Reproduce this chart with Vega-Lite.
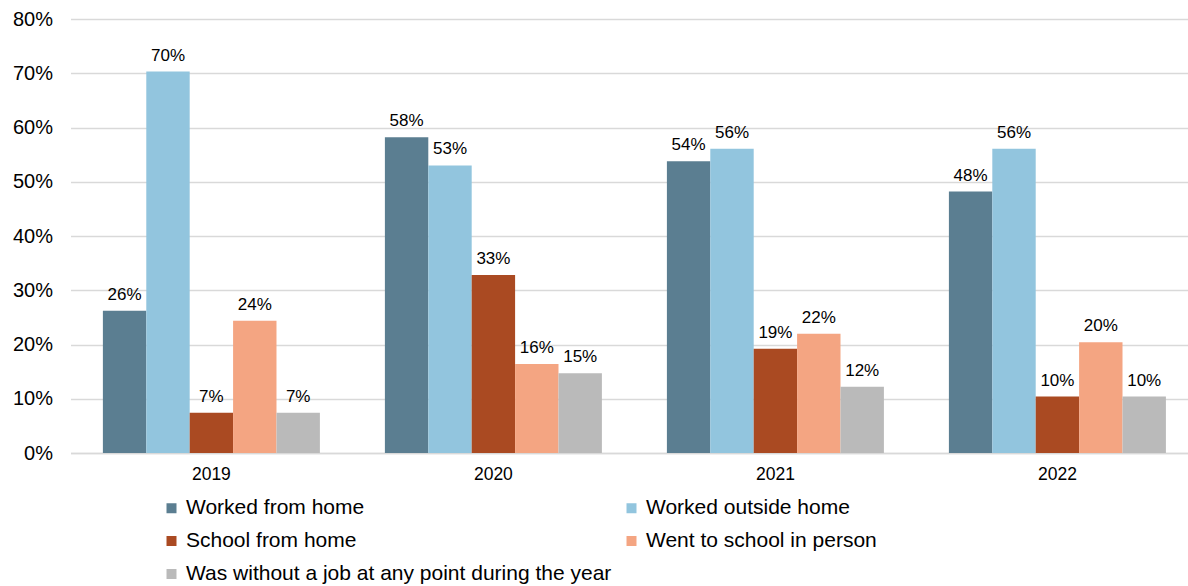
{
  "$schema": "https://vega.github.io/schema/vega-lite/v6.json",
  "width": 1117,
  "height": 434,
  "autosize": {"type": "none"},
  "padding": {"left": 70.5, "top": 19, "right": 0, "bottom": 133},
  "config": {
    "font": "Liberation Sans",
    "view": {"stroke": null},
    "axis": {"labelColor": "#000000", "labelFont": "Liberation Sans"}
  },
  "data": {
    "values": [
      {"year": "2019", "status": "Worked from home", "share": 0.262},
      {"year": "2019", "status": "Worked outside home", "share": 0.703},
      {"year": "2019", "status": "School from home", "share": 0.074},
      {"year": "2019", "status": "Went to school in person", "share": 0.244},
      {"year": "2019", "status": "Was without a job at any point during the year", "share": 0.074},
      {"year": "2020", "status": "Worked from home", "share": 0.582},
      {"year": "2020", "status": "Worked outside home", "share": 0.530},
      {"year": "2020", "status": "School from home", "share": 0.328},
      {"year": "2020", "status": "Went to school in person", "share": 0.164},
      {"year": "2020", "status": "Was without a job at any point during the year", "share": 0.147},
      {"year": "2021", "status": "Worked from home", "share": 0.538},
      {"year": "2021", "status": "Worked outside home", "share": 0.561},
      {"year": "2021", "status": "School from home", "share": 0.192},
      {"year": "2021", "status": "Went to school in person", "share": 0.220},
      {"year": "2021", "status": "Was without a job at any point during the year", "share": 0.122},
      {"year": "2022", "status": "Worked from home", "share": 0.482},
      {"year": "2022", "status": "Worked outside home", "share": 0.561},
      {"year": "2022", "status": "School from home", "share": 0.104},
      {"year": "2022", "status": "Went to school in person", "share": 0.204},
      {"year": "2022", "status": "Was without a job at any point during the year", "share": 0.104}
    ]
  },
  "encoding": {
    "x": {
      "field": "year",
      "type": "nominal",
      "scale": {"paddingInner": 0.2305, "paddingOuter": 0.0957, "align": 0.6},
      "axis": {
        "title": null,
        "labelAngle": 0,
        "labelFontSize": 17.5,
        "labelPadding": 12,
        "ticks": false,
        "domainColor": "#d9d9d9",
        "domainWidth": 1.3
      }
    },
    "xOffset": {
      "field": "status",
      "type": "nominal",
      "sort": ["Worked from home", "Worked outside home", "School from home", "Went to school in person", "Was without a job at any point during the year"],
      "scale": {"paddingInner": 0, "paddingOuter": 0}
    },
    "y": {
      "field": "share",
      "type": "quantitative",
      "scale": {"domain": [0, 0.8]},
      "axis": {
        "title": null,
        "format": ".0%",
        "values": [0, 0.1, 0.2, 0.3, 0.4, 0.5, 0.6, 0.7, 0.8],
        "domain": false,
        "ticks": false,
        "labelFontSize": 20,
        "labelPadding": 18,
        "gridColor": "#d9d9d9",
        "gridWidth": 1.3
      }
    }
  },
  "layer": [
    {
      "mark": {"type": "bar"},
      "encoding": {
        "color": {
          "field": "status",
          "type": "nominal",
          "scale": {
            "domain": ["Worked from home", "School from home", "Was without a job at any point during the year", "Worked outside home", "Went to school in person"],
            "range": ["#5b7e91", "#aa4a22", "#bababa", "#92c5de", "#f4a582"]
          },
          "legend": {
            "title": null,
            "orient": "none",
            "legendX": 90.5,
            "legendY": 478.5,
            "columns": 2,
            "columnPadding": 9,
            "rowPadding": 11,
            "symbolType": "square",
            "symbolSize": 100,
            "symbolStrokeWidth": 0,
            "labelFontSize": 21,
            "labelColor": "#000000",
            "labelOffset": 4,
            "labelLimit": 700
          }
        }
      }
    },
    {
      "mark": {"type": "text", "baseline": "bottom", "dy": -7, "fontSize": 17, "color": "#000000"},
      "encoding": {
        "text": {"field": "share", "type": "quantitative", "format": ".0%"}
      }
    }
  ]
}
